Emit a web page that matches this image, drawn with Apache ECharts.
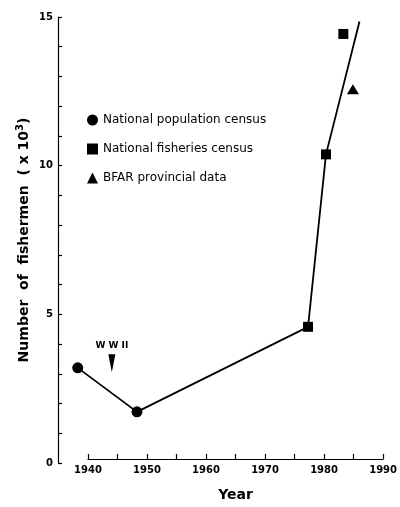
<!DOCTYPE html>
<html><head><meta charset="utf-8">
<script src="https://cdn.jsdelivr.net/npm/echarts@6/dist/echarts.min.js"></script>
<style>html,body{margin:0;padding:0;background:#fff}#c{width:400px;height:507px}</style>
</head><body><div id="c"></div>
<script>
var censusYears = [1938.3, 1948.2];
var censusValues = [3.2, 1.72];
var fisheriesYears = [1976.8, 1979.8, 1982.7];
var fisheriesValues = [4.58, 10.38, 14.43];
var bfarYears = [1984.3];
var bfarValues = [12.57];
var trendYears = [1938.3, 1948.2, 1976.8, 1979.8, 1985.4];
var trendValues = [3.2, 1.72, 4.58, 10.38, 14.85];
var wwiiYear = 1944;
var wwiiValue = 3.35;
var seriesNames = ['National population census', 'National fisheries census', 'BFAR provincial data'];
var yTicks = [0, 5, 10, 15];
var xTicks = [1940, 1950, 1960, 1970, 1980, 1990];

function pairs(xs, ys){ return xs.map(function(x,i){return [x, ys[i]];}); }

var font = 'DejaVu Sans';
var blk = '#000';
var chart = echarts.init(document.getElementById('c'));
chart.setOption({
  animation: false,
  backgroundColor: '#fff',
  textStyle: {fontFamily: font, color: blk},
  grid: [
    {left: 58, right: 13, top: 17, bottom: 44},
    {left: 88, right: 13, top: 17, bottom: 44}
  ],
  legend: {
    orient: 'vertical', left: 82, top: 109, itemGap: 17,
    itemWidth: 11, itemHeight: 11,
    data: [
      {name: seriesNames[0], icon: 'circle'},
      {name: seriesNames[1], icon: 'rect'},
      {name: seriesNames[2], icon: 'triangle'}
    ],
    textStyle: {fontFamily: font, fontSize: 12, color: blk}
  },
  xAxis: [
    {gridIndex: 0, type: 'value', min: xTicks[0] - 5, max: xTicks[xTicks.length-1], show: false},
    {
      gridIndex: 1, type: 'value', min: xTicks[0], max: xTicks[xTicks.length-1], interval: 10,
      name: 'Year', nameLocation: 'middle', nameGap: 29,
      nameTextStyle: {fontFamily: font, fontSize: 14, fontWeight: 'bold', color: blk},
      axisLine: {lineStyle: {color: blk, width: 1.2}},
      axisTick: {inside: true, length: 5, lineStyle: {color: blk, width: 1.2}},
      minorTick: {show: true, splitNumber: 2, length: 5, lineStyle: {color: blk, width: 1.2}},
      splitLine: {show: false},
      axisLabel: {fontFamily: font, fontSize: 10, fontWeight: 'bold', color: blk, margin: 6,
        formatter: function(v){ return String(v); }}
    }
  ],
  yAxis: [
    {
      gridIndex: 0, type: 'value', min: yTicks[0], max: yTicks[yTicks.length-1], interval: 5,
      name: '{a|Number  of  fishermen  ( x 10}{s|3}{a|)}', nameLocation: 'middle', nameGap: 25,
      nameMoveOverlap: false,
      nameRotate: 90,
      nameTextStyle: {rich: {
        a: {fontFamily: font, fontSize: 14, fontWeight: 'bold', color: blk},
        s: {fontFamily: font, fontSize: 10, fontWeight: 'bold', color: blk, verticalAlign: 'bottom', padding: [0,0,8,0]}
      }},
      axisLine: {show: true, lineStyle: {color: blk, width: 1.2}},
      axisTick: {show: true, inside: true, length: 4, lineStyle: {color: blk, width: 1.2}},
      minorTick: {show: true, splitNumber: 5, length: 4, lineStyle: {color: blk, width: 1.2}},
      splitLine: {show: false},
      axisLabel: {fontFamily: font, fontSize: 10, fontWeight: 'bold', color: blk, margin: 5}
    },
    {gridIndex: 1, type: 'value', min: yTicks[0], max: yTicks[yTicks.length-1], show: false}
  ],
  series: [
    {
      type: 'line', name: 'trend', xAxisIndex: 0, yAxisIndex: 0, data: pairs(trendYears, trendValues),
      showSymbol: false, symbol: 'none', clip: false,
      lineStyle: {color: blk, width: 1.8},
      markPoint: {
        symbol: 'path://M0,0 L10,0 L5,30 Z', symbolSize: [7, 18], symbolOffset: [0, '-50%'],
        itemStyle: {color: blk},
        label: {show: true, position: 'top', distance: 4, formatter: 'W W II',
          fontFamily: font, fontSize: 9, fontWeight: 'bold', color: blk},
        data: [{coord: [wwiiYear, wwiiValue - 0.3]}]
      },
      z: 2
    },
    {type: 'scatter', name: seriesNames[0], xAxisIndex: 0, yAxisIndex: 0, data: pairs(censusYears, censusValues), symbol: 'circle', symbolSize: 11, clip: false, itemStyle: {color: blk, opacity: 1}, z: 3},
    {type: 'scatter', name: seriesNames[1], xAxisIndex: 0, yAxisIndex: 0, data: pairs(fisheriesYears, fisheriesValues), symbol: 'rect', symbolSize: 10, clip: false, itemStyle: {color: blk, opacity: 1}, z: 3},
    {type: 'scatter', name: seriesNames[2], xAxisIndex: 0, yAxisIndex: 0, data: pairs(bfarYears, bfarValues), symbol: 'triangle', symbolSize: [12, 10], clip: false, itemStyle: {color: blk, opacity: 1}, z: 3}
  ]
});
</script></body></html>
